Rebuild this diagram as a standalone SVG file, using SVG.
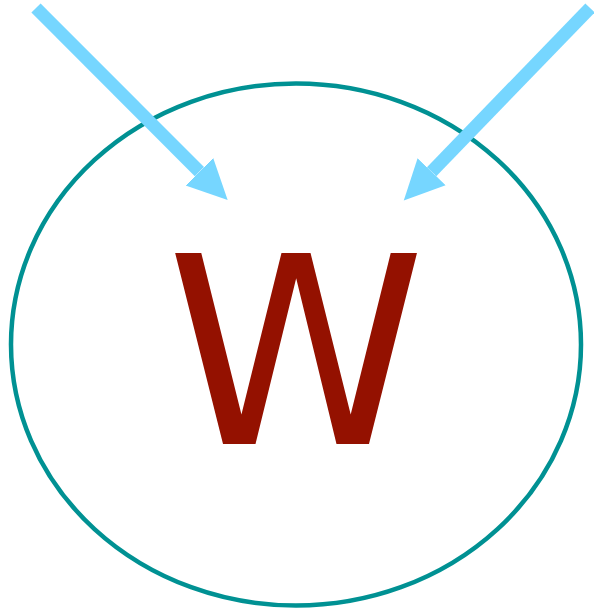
<svg xmlns="http://www.w3.org/2000/svg" width="594" height="611" viewBox="0 0 594 611">
<style>
.arrow{stroke:#76D6FF;stroke-width:13;fill:none;marker-end:url(#head)}
.node{fill:none;stroke:#009193;stroke-width:4.5}
.label{font-family:"DejaVu Sans",sans-serif;font-size:262px;fill:#941100;text-anchor:middle}
</style>
<defs>
<marker id="head" markerUnits="userSpaceOnUse" markerWidth="42" markerHeight="42" viewBox="0 -21 42 42" refX="0" refY="0" orient="auto">
<path d="M0,-19.5 L40,0 L0,19.5 Z" fill="#76D6FF"/>
</marker>
</defs>
<g id="node-w">
<ellipse class="node" cx="296" cy="344.5" rx="285" ry="261"/>
<text class="label" x="296" y="444">W</text>
</g>
<g id="connectors">
<line class="arrow" x1="36" y1="8" x2="199.4" y2="171.7"/>
<line class="arrow" x1="590" y1="8" x2="431.6" y2="171.7"/>
</g>
</svg>
